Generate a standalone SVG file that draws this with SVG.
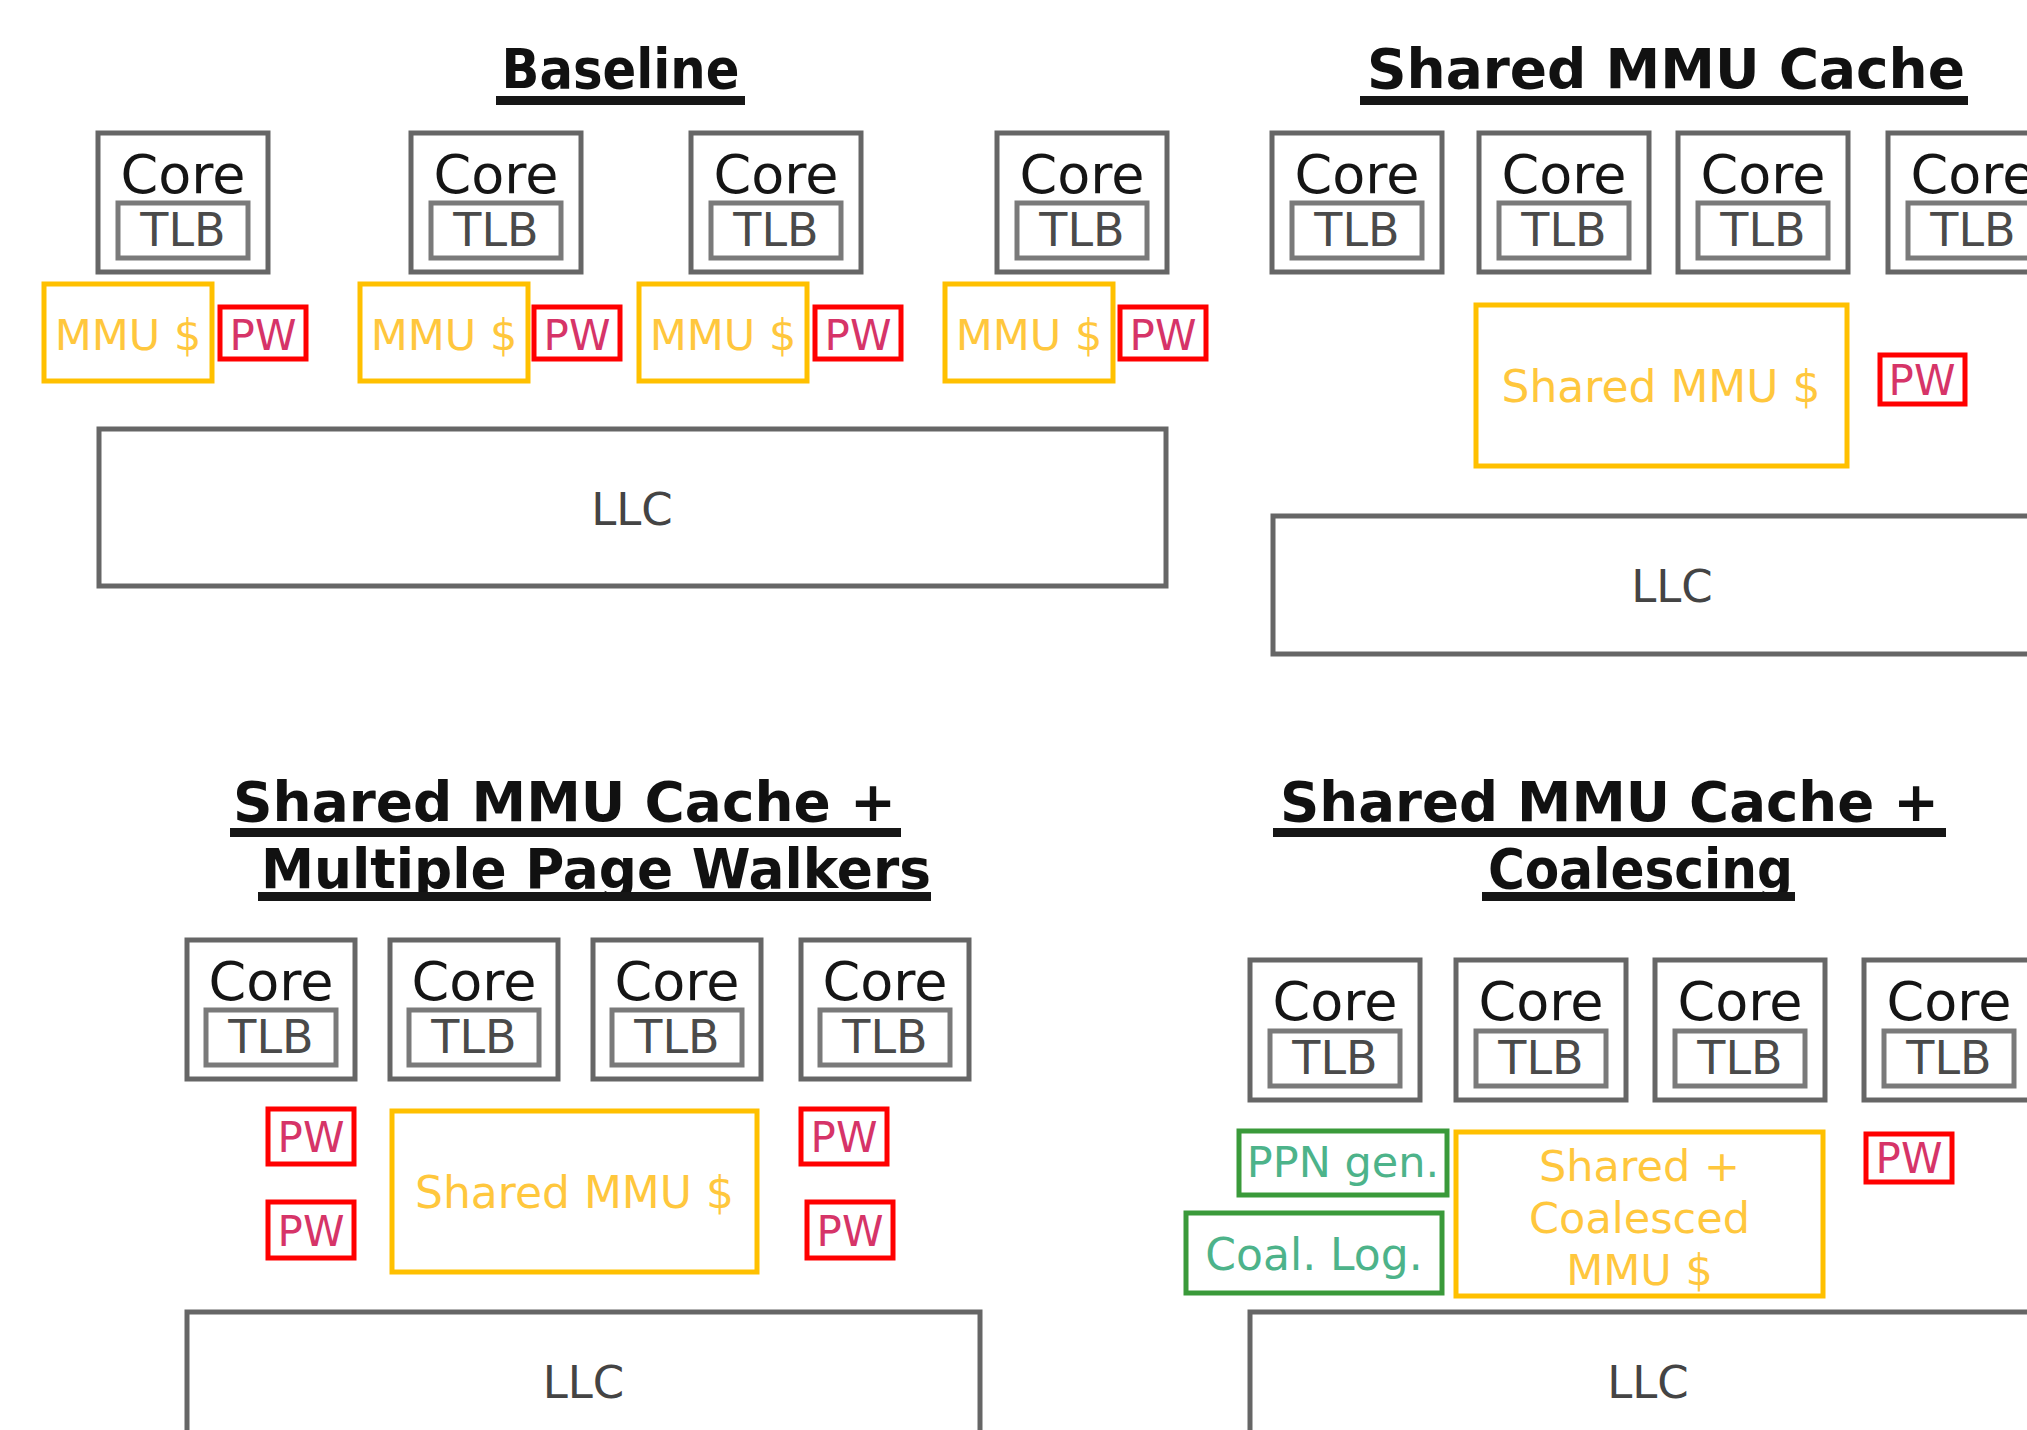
<svg xmlns="http://www.w3.org/2000/svg" width="2027" height="1430" viewBox="0 0 2027 1430">
  <defs>
    <style>
      .box{fill:#fff;stroke:#666;stroke-width:5}
      .tlb{fill:#fff;stroke:#7a7a7a;stroke-width:5}
      .mmu{fill:#fff;stroke:#FFC000;stroke-width:5}
      .pw{fill:#fff;stroke:#FF0000;stroke-width:5}
      .grn{fill:#fff;stroke:#3A9A3A;stroke-width:5}
      text{font-family:"DejaVu Sans","Liberation Sans",sans-serif;text-anchor:middle}
      .t-core{font-size:54px;fill:#151515}
      .t-tlb{font-size:46px;fill:#4a4a4a}
      .t-llc{font-size:45px;fill:#444}
      .t-mmu{font-size:43px;fill:#FFC73D}
      .t-pw{font-size:42px;fill:#D63468}
      .t-grn{font-size:43px;fill:#4DB38A}
      .title{font-size:56px;font-weight:bold;fill:#111}
      .ul{fill:#161616}
    </style>
  </defs>
  <rect x="0" y="0" width="2027" height="1430" fill="#fff"/>

  <!-- Panel: Baseline -->
  <g id="baseline">
    <g id="baseline-title">
      <text class="title" x="620.5" y="88" textLength="238" lengthAdjust="spacingAndGlyphs">Baseline</text>
      <rect class="ul" x="496" y="96" width="249" height="9"/>
    </g>
    <g id="bl-core1">
      <rect class="box" x="98" y="133" width="170" height="139"/>
      <rect class="tlb" x="118" y="203" width="130" height="55"/>
      <text class="t-core" x="183" y="193">Core</text>
      <text class="t-tlb" x="183" y="246">TLB</text>
    </g>
    <g id="bl-core2">
      <rect class="box" x="411" y="133" width="170" height="139"/>
      <rect class="tlb" x="431" y="203" width="130" height="55"/>
      <text class="t-core" x="496" y="193">Core</text>
      <text class="t-tlb" x="496" y="246">TLB</text>
    </g>
    <g id="bl-core3">
      <rect class="box" x="691" y="133" width="170" height="139"/>
      <rect class="tlb" x="711" y="203" width="130" height="55"/>
      <text class="t-core" x="776" y="193">Core</text>
      <text class="t-tlb" x="776" y="246">TLB</text>
    </g>
    <g id="bl-core4">
      <rect class="box" x="997" y="133" width="170" height="139"/>
      <rect class="tlb" x="1017" y="203" width="130" height="55"/>
      <text class="t-core" x="1082" y="193">Core</text>
      <text class="t-tlb" x="1082" y="246">TLB</text>
    </g>
    <g id="bl-mmu1"><rect class="mmu" x="44" y="284" width="168" height="97"/><text class="t-mmu" x="128" y="350">MMU $</text></g>
    <g id="bl-mmu2"><rect class="mmu" x="360" y="284" width="168" height="97"/><text class="t-mmu" x="444" y="350">MMU $</text></g>
    <g id="bl-mmu3"><rect class="mmu" x="639" y="284" width="168" height="97"/><text class="t-mmu" x="723" y="350">MMU $</text></g>
    <g id="bl-mmu4"><rect class="mmu" x="945" y="284" width="168" height="97"/><text class="t-mmu" x="1029" y="350">MMU $</text></g>
    <g id="bl-pw1"><rect class="pw" x="220" y="307" width="86" height="52"/><text class="t-pw" x="263" y="350">PW</text></g>
    <g id="bl-pw2"><rect class="pw" x="534" y="307" width="86" height="52"/><text class="t-pw" x="577" y="350">PW</text></g>
    <g id="bl-pw3"><rect class="pw" x="815" y="307" width="86" height="52"/><text class="t-pw" x="858" y="350">PW</text></g>
    <g id="bl-pw4"><rect class="pw" x="1120" y="307" width="86" height="52"/><text class="t-pw" x="1163" y="350">PW</text></g>
    <g id="bl-llc"><rect class="box" x="99" y="429" width="1067" height="157"/><text class="t-llc" x="632" y="525">LLC</text></g>
  </g>

  <!-- Panel: Shared MMU Cache -->
  <g id="shared">
    <g id="shared-title">
      <text class="title" x="1666" y="88" textLength="598" lengthAdjust="spacingAndGlyphs">Shared MMU Cache</text>
      <rect class="ul" x="1360" y="96" width="608" height="9"/>
    </g>
    <g id="sh-core1">
      <rect class="box" x="1272" y="133" width="170" height="139"/>
      <rect class="tlb" x="1292" y="203" width="130" height="55"/>
      <text class="t-core" x="1357" y="193">Core</text>
      <text class="t-tlb" x="1357" y="246">TLB</text>
    </g>
    <g id="sh-core2">
      <rect class="box" x="1479" y="133" width="170" height="139"/>
      <rect class="tlb" x="1499" y="203" width="130" height="55"/>
      <text class="t-core" x="1564" y="193">Core</text>
      <text class="t-tlb" x="1564" y="246">TLB</text>
    </g>
    <g id="sh-core3">
      <rect class="box" x="1678" y="133" width="170" height="139"/>
      <rect class="tlb" x="1698" y="203" width="130" height="55"/>
      <text class="t-core" x="1763" y="193">Core</text>
      <text class="t-tlb" x="1763" y="246">TLB</text>
    </g>
    <!-- fourth core runs past the right edge of the sheet -->
    <g id="sh-core4">
      <rect class="box" x="1888" y="133" width="170" height="139"/>
      <rect class="tlb" x="1908" y="203" width="130" height="55"/>
      <text class="t-core" x="1973" y="193">Core</text>
      <text class="t-tlb" x="1973" y="246">TLB</text>
    </g>
    <g id="sh-mmu"><rect class="mmu" x="1476" y="305" width="371" height="161"/><text class="t-mmu" x="1661" y="402" style="font-size:44px">Shared MMU $</text></g>
    <g id="sh-pw"><rect class="pw" x="1880" y="355" width="85" height="49"/><text class="t-pw" x="1922" y="395">PW</text></g>
    <g id="sh-llc"><rect class="box" x="1273" y="516" width="794" height="138"/><text class="t-llc" x="1672" y="602">LLC</text></g>
  </g>

  <!-- Panel: Shared MMU Cache + Multiple Page Walkers -->
  <g id="multi">
    <g id="multi-title">
      <text class="title" x="564.5" y="821" textLength="663" lengthAdjust="spacingAndGlyphs">Shared MMU Cache +</text>
      <rect class="ul" x="230" y="828" width="671" height="9"/>
      <text class="title" x="596" y="888" textLength="670" lengthAdjust="spacingAndGlyphs">Multiple Page Walkers</text>
      <rect class="ul" x="258" y="892" width="673" height="9"/>
    </g>
    <g id="mp-core1">
      <rect class="box" x="187" y="940" width="168" height="139"/>
      <rect class="tlb" x="206" y="1010" width="130" height="55"/>
      <text class="t-core" x="271" y="1000">Core</text>
      <text class="t-tlb" x="271" y="1053">TLB</text>
    </g>
    <g id="mp-core2">
      <rect class="box" x="390" y="940" width="168" height="139"/>
      <rect class="tlb" x="409" y="1010" width="130" height="55"/>
      <text class="t-core" x="474" y="1000">Core</text>
      <text class="t-tlb" x="474" y="1053">TLB</text>
    </g>
    <g id="mp-core3">
      <rect class="box" x="593" y="940" width="168" height="139"/>
      <rect class="tlb" x="612" y="1010" width="130" height="55"/>
      <text class="t-core" x="677" y="1000">Core</text>
      <text class="t-tlb" x="677" y="1053">TLB</text>
    </g>
    <g id="mp-core4">
      <rect class="box" x="801" y="940" width="168" height="139"/>
      <rect class="tlb" x="820" y="1010" width="130" height="55"/>
      <text class="t-core" x="885" y="1000">Core</text>
      <text class="t-tlb" x="885" y="1053">TLB</text>
    </g>
    <g id="mp-pw1"><rect class="pw" x="268" y="1109" width="86" height="55"/><text class="t-pw" x="311" y="1152">PW</text></g>
    <g id="mp-pw2"><rect class="pw" x="268" y="1202" width="86" height="56"/><text class="t-pw" x="311" y="1246">PW</text></g>
    <g id="mp-pw3"><rect class="pw" x="801" y="1109" width="86" height="55"/><text class="t-pw" x="844" y="1152">PW</text></g>
    <g id="mp-pw4"><rect class="pw" x="807" y="1202" width="86" height="56"/><text class="t-pw" x="850" y="1246">PW</text></g>
    <g id="mp-mmu"><rect class="mmu" x="392" y="1111" width="365" height="161"/><text class="t-mmu" x="574.5" y="1208" style="font-size:44px">Shared MMU $</text></g>
    <g id="mp-llc"><rect class="box" x="187" y="1312" width="793" height="138"/><text class="t-llc" x="583.5" y="1398">LLC</text></g>
  </g>

  <!-- Panel: Shared MMU Cache + Coalescing -->
  <g id="coal">
    <g id="coal-title">
      <text class="title" x="1609.5" y="821" textLength="659" lengthAdjust="spacingAndGlyphs">Shared MMU Cache +</text>
      <rect class="ul" x="1273" y="828" width="673" height="9"/>
      <text class="title" x="1640.5" y="888" textLength="305" lengthAdjust="spacingAndGlyphs">Coalescing</text>
      <rect class="ul" x="1482" y="892" width="313" height="9"/>
    </g>
    <g id="co-core1">
      <rect class="box" x="1250" y="960" width="170" height="140"/>
      <rect class="tlb" x="1270" y="1031" width="130" height="55"/>
      <text class="t-core" x="1335" y="1020">Core</text>
      <text class="t-tlb" x="1335" y="1074">TLB</text>
    </g>
    <g id="co-core2">
      <rect class="box" x="1456" y="960" width="170" height="140"/>
      <rect class="tlb" x="1476" y="1031" width="130" height="55"/>
      <text class="t-core" x="1541" y="1020">Core</text>
      <text class="t-tlb" x="1541" y="1074">TLB</text>
    </g>
    <g id="co-core3">
      <rect class="box" x="1655" y="960" width="170" height="140"/>
      <rect class="tlb" x="1675" y="1031" width="130" height="55"/>
      <text class="t-core" x="1740" y="1020">Core</text>
      <text class="t-tlb" x="1740" y="1074">TLB</text>
    </g>
    <g id="co-core4">
      <rect class="box" x="1864" y="960" width="170" height="140"/>
      <rect class="tlb" x="1884" y="1031" width="130" height="55"/>
      <text class="t-core" x="1949" y="1020">Core</text>
      <text class="t-tlb" x="1949" y="1074">TLB</text>
    </g>
    <g id="co-ppn"><rect class="grn" x="1239" y="1131" width="208" height="64"/><text class="t-grn" x="1343" y="1177">PPN gen.</text></g>
    <g id="co-log"><rect class="grn" x="1186" y="1213" width="256" height="80"/><text class="t-grn" x="1314" y="1270" style="font-size:44px">Coal. Log.</text></g>
    <g id="co-mmu">
      <rect class="mmu" x="1456" y="1132" width="367" height="164"/>
      <text class="t-mmu" x="1639.5" y="1181">Shared +</text>
      <text class="t-mmu" x="1639.5" y="1233">Coalesced</text>
      <text class="t-mmu" x="1639.5" y="1285">MMU $</text>
    </g>
    <g id="co-pw"><rect class="pw" x="1866" y="1134" width="86" height="48"/><text class="t-pw" x="1909" y="1173">PW</text></g>
    <g id="co-llc"><rect class="box" x="1250" y="1312" width="796" height="138"/><text class="t-llc" x="1648" y="1398">LLC</text></g>
  </g>

  <!-- no links between blocks -->
  <g id="connectors"/>
</svg>
